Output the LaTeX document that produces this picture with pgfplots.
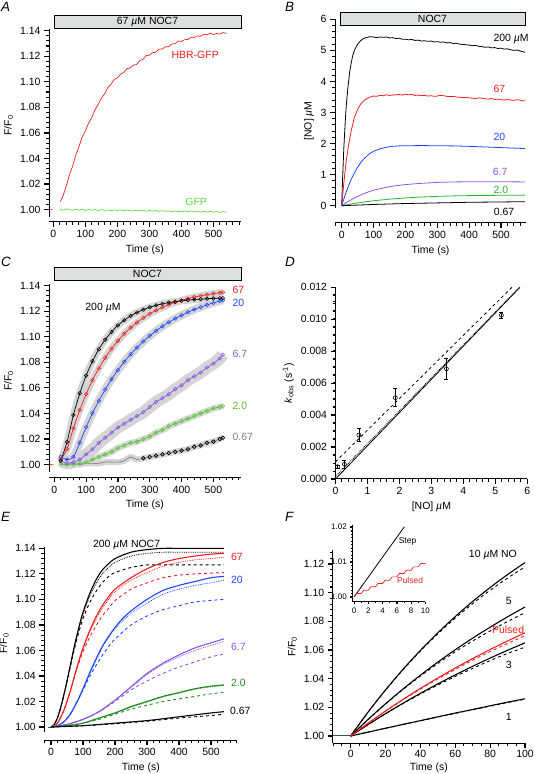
\documentclass[border=0pt]{standalone}
\usepackage{fontspec}
\setmainfont{Liberation Sans}
\usepackage{pgfplots}
\pgfplotsset{compat=1.18}
\definecolor{myred}{RGB}{240,30,30}
\definecolor{myblue}{RGB}{30,70,255}
\definecolor{mypurple}{RGB}{135,85,230}
\definecolor{greenA}{RGB}{90,220,60}
\definecolor{greenB}{RGB}{40,180,40}
\definecolor{greenC}{RGB}{80,200,40}
\definecolor{greenE}{RGB}{30,140,30}
\definecolor{boxgray}{RGB}{222,224,224}
\definecolor{bandgray}{RGB}{212,212,212}
\newcommand{\um}{\textit{µ}}
\newcommand{\tkx}[4]{\pgfplotsinvokeforeach{#1}{\draw[black, line width=#4] (axis cs:##1,#2) -- ++(0pt,-#3);}}
\newcommand{\tky}[4]{\pgfplotsinvokeforeach{#1}{\draw[black, line width=#4] (axis cs:#2,##1) -- ++(-#3,0pt);}}
\pgfplotsset{
  prism/.style={
    scale only axis, clip=false, anchor=south west,
    tick align=outside, major tick length=5bp, minor tick length=3bp,
    tick style={black, line width=1.2pt},
    minor tick style={black, line width=1pt},
    axis line style={line width=1pt},
    tick label style={font=\fontsize{10.5}{12}\selectfont},
    label style={font=\fontsize{10.5}{12}\selectfont},
    /pgf/number format/assume math mode=true,
  },
  two/.style={yticklabel style={/pgf/number format/fixed, /pgf/number format/fixed zerofill, /pgf/number format/precision=2}},
  cm/.style={smooth, line width=0.7pt, mark=o, mark size=1.8bp, mark options={line width=0.5pt, solid}},
}
\begin{document}
\begin{tikzpicture}
\path[use as bounding box] (0,0) rectangle (535bp,774bp);
% panel letters
\begin{scope}[every node/.style={anchor=north west, inner sep=0pt, font=\itshape\fontsize{13.5}{15}\selectfont}]
\node at (1bp,772bp) {A};
\node at (285bp,772bp) {B};
\node at (1bp,517bp) {C};
\node at (285bp,517bp) {D};
\node at (1bp,262bp) {E};
\node at (285bp,262bp) {F};
\end{scope}
% stimulus bars
\begin{scope}[every node/.style={font=\fontsize{10.5}{12}\selectfont}]
\draw[fill=boxgray, line width=0.6pt] (54bp,746bp) rectangle (241bp,759bp);
\node at (147.5bp,752.5bp) {67 \um M NOC7};
\draw[fill=boxgray, line width=0.6pt] (340bp,749bp) rectangle (525bp,762bp);
\node at (432.5bp,755.5bp) {NOC7};
\draw[fill=boxgray, line width=0.6pt] (54bp,494bp) rectangle (241bp,507bp);
\node at (147.5bp,500.5bp) {NOC7};
\end{scope}

%%%%%%%%%%%%%%%% A
\begin{axis}[prism, two, at={(49bp,552.3bp)}, width=191.7bp, height=192.4bp,
  xmin=-13.5, xmax=585, ymin=0.9906, ymax=1.141,
  axis x line*=bottom, axis y line*=left,
  y axis line style={shorten <=5bp},
  xtick={0,100,200,300,400,500}, minor xtick={0,20,...,580},
  ytick={1.00,1.02,1.04,1.06,1.08,1.10,1.12,1.14}, minor y tick num=4,
  xlabel={Time (s)}, ylabel={F/F\textsubscript{0}}]
\tkx{0,100,...,500}{0.9906}{5bp}{1.2pt}\tkx{0,20,...,580}{0.9906}{3bp}{1pt}
\tky{1.00,1.02,...,1.141}{-13.5}{5bp}{1.2pt}\tky{1.004,1.008,...,1.137}{-13.5}{3bp}{1pt}
\addplot[myred, line width=0.7pt] coordinates {(-9,1.0001)(-6,0.9997)(-3,1.0002)};
\addplot[myred, line width=0.7pt] coordinates {
(22,1.0065)(30,1.0106)(40,1.0181)(50,1.0271)(60,1.0338)(70,1.0425)(80,1.0493)(90,1.0568)(100,1.0615)(110,1.0676)
(120,1.0719)(130,1.0781)(140,1.0821)(150,1.0873)(160,1.0905)(170,1.0955)(180,1.0980)(190,1.1018)(200,1.1030)(210,1.1059)
(220,1.1072)(230,1.1102)(240,1.1108)(250,1.1130)(260,1.1135)(270,1.1165)(280,1.1176)(290,1.1204)(300,1.1208)(310,1.1227)
(320,1.1232)(330,1.1255)(340,1.1256)(350,1.1273)(360,1.1273)(370,1.1295)(380,1.1298)(390,1.1318)(400,1.1315)(410,1.1329)
(420,1.1330)(430,1.1349)(440,1.1346)(450,1.1359)(460,1.1355)(470,1.1371)(480,1.1367)(490,1.1380)(500,1.1369)(510,1.1377)
(520,1.1372)(530,1.1385)(540,1.1377)};
\addplot[greenA, line width=0.7pt] coordinates {
(20,1.0002)(30,0.9996)(40,1.0006)(50,1.0001)(60,0.9995)(70,1.0004)(80,0.9997)(90,1.0003)(100,0.9994)(110,1.0002)
(120,0.9996)(130,1.0001)(140,0.9993)(150,1.0000)(160,0.9995)(170,0.9999)(180,0.9992)(190,0.9998)(200,0.9994)(210,0.9999)
(220,0.9991)(230,0.9997)(240,0.9993)(250,0.9989)(260,0.9996)(270,0.9990)(280,0.9995)(290,0.9988)(300,0.9994)(310,0.9989)
(320,0.9993)(330,0.9986)(340,0.9992)(350,0.9987)(360,0.9991)(370,0.9985)(380,0.9990)(390,0.9986)(400,0.9983)(410,0.9990)
(420,0.9984)(430,0.9988)(440,0.9983)(450,0.9989)(460,0.9982)(470,0.9987)(480,0.9981)(490,0.9986)(500,0.9980)(510,0.9985)
(520,0.9979)(530,0.9984)(540,0.9980)};
\node[myred, font=\fontsize{10.5}{12}\selectfont] at (axis cs:443,1.121) {HBR-GFP};
\node[greenA, font=\fontsize{10.5}{12}\selectfont] at (axis cs:446,1.0058) {GFP};
\end{axis}

%%%%%%%%%%%%%%%% B
\begin{axis}[prism, at={(335bp,551.3bp)}, width=191bp, height=203.4bp,
  xmin=-21, xmax=578.5, ymin=-0.547, ymax=6,
  axis x line*=bottom, axis y line*=left,
  y axis line style={shorten <=14.4bp},
  xtick={0,100,200,300,400,500}, minor xtick={-20,0,...,560},
  ytick={0,1,2,3,4,5,6}, minor y tick num=4,
  xlabel={Time (s)}, ylabel={[NO] \um M}]
\tkx{0,100,...,500}{-0.547}{5bp}{1.2pt}\tkx{-20,0,...,560}{-0.547}{3bp}{1pt}
\tky{0,1,...,6}{-21}{5bp}{1.2pt}\tky{0.2,0.4,...,5.85}{-21}{3bp}{1pt}
\addplot[black, line width=0.8pt] coordinates {
(0,0)(3,0.9)(6,1.7)(9,2.3)(12,2.85)(15,3.3)(20,3.85)(25,4.3)(30,4.6)(35,4.85)(40,5.0)(50,5.2)(60,5.32)(70,5.39)(80,5.42)
(90,5.44)(100,5.43)(110,5.41)(120,5.43)(130,5.42)(140,5.43)(150,5.40)(160,5.41)(170,5.38)(180,5.39)(190,5.36)(200,5.36)
(210,5.34)(220,5.35)(230,5.32)(240,5.33)(250,5.30)(260,5.31)(270,5.29)(280,5.30)(290,5.27)(300,5.28)(310,5.26)(320,5.27)
(330,5.24)(340,5.25)(350,5.22)(360,5.23)(370,5.20)(380,5.19)(390,5.18)(400,5.17)(410,5.15)(420,5.16)(430,5.13)(440,5.12)
(450,5.10)(460,5.11)(470,5.08)(480,5.09)(490,5.06)(500,5.07)(510,5.04)(520,5.05)(530,5.02)(540,5.00)(550,5.01)(560,4.98)
(570,4.95)(575,4.94)};
\addplot[myred, line width=0.8pt] coordinates {
(0,0)(5,0.55)(10,1.05)(15,1.5)(20,1.85)(25,2.15)(30,2.42)(40,2.85)(50,3.1)(60,3.28)(70,3.38)(80,3.45)(90,3.5)(100,3.53)
(110,3.52)(120,3.55)(130,3.54)(140,3.57)(150,3.55)(160,3.56)(170,3.57)(180,3.58)(190,3.56)(200,3.59)(210,3.57)(220,3.58)
(230,3.55)(240,3.56)(250,3.54)(260,3.55)(270,3.53)(280,3.54)(290,3.52)(300,3.53)(310,3.55)(320,3.54)(330,3.52)(340,3.51)
(350,3.52)(360,3.50)(370,3.49)(380,3.48)(390,3.49)(400,3.47)(410,3.46)(420,3.45)(430,3.47)(440,3.46)(450,3.44)(460,3.43)
(470,3.45)(480,3.42)(490,3.43)(500,3.41)(510,3.40)(520,3.42)(530,3.40)(540,3.39)(550,3.41)(560,3.40)(570,3.37)(575,3.38)};
\addplot[myblue, line width=0.8pt] coordinates {
(0,0)(10,0.32)(20,0.6)(30,0.85)(40,1.06)(50,1.24)(60,1.39)(70,1.51)(80,1.61)(90,1.69)(100,1.75)(120,1.83)(140,1.88)
(160,1.91)(180,1.925)(200,1.93)(250,1.935)(300,1.93)(350,1.925)(400,1.91)(450,1.89)(500,1.87)(550,1.85)(575,1.84)};
\addplot[mypurple, line width=0.8pt] coordinates {
(0,0)(20,0.13)(40,0.25)(60,0.35)(80,0.43)(100,0.50)(130,0.57)(160,0.63)(200,0.68)(250,0.72)(300,0.75)(350,0.765)
(400,0.77)(450,0.77)(500,0.77)(575,0.765)};
\addplot[greenB, line width=0.8pt] coordinates {
(0,0)(50,0.09)(100,0.16)(150,0.21)(200,0.25)(250,0.28)(300,0.30)(350,0.315)(400,0.325)(450,0.33)(500,0.335)(575,0.34)};
\addplot[black, line width=0.8pt] coordinates {
(0,0)(100,0.04)(200,0.07)(300,0.09)(400,0.11)(500,0.12)(575,0.13)};
\begin{scope}[every node/.style={anchor=west, inner sep=0pt, font=\fontsize{10.5}{12}\selectfont}]
\node[black] at (axis cs:476,5.37) {200 \um M};
\node[myred] at (axis cs:476,3.75) {67};
\node[myblue] at (axis cs:476,2.22) {20};
\node[mypurple] at (axis cs:474,1.075) {6.7};
\node[greenB] at (axis cs:476,0.505) {2.0};
\node[black] at (axis cs:477,-0.21) {0.67};
\end{scope}
\end{axis}

%%%%%%%%%%%%%%%% C
\begin{axis}[prism, two, at={(49bp,296.7bp)}, width=191.7bp, height=193bp,
  xmin=-16.7, xmax=586, ymin=0.9901, ymax=1.141,
  axis x line*=bottom, axis y line*=left,
  y axis line style={shorten <=5.6bp},
  xtick={0,100,200,300,400,500}, minor xtick={0,20,...,580},
  ytick={1.00,1.02,1.04,1.06,1.08,1.10,1.12,1.14}, minor y tick num=4,
  xlabel={Time (s)}, ylabel={F/F\textsubscript{0}}]
\tkx{0,100,...,500}{0.9901}{5bp}{1.2pt}\tkx{0,20,...,580}{0.9901}{3bp}{1pt}
\tky{1.00,1.02,...,1.141}{-16.7}{5bp}{1.2pt}\tky{1.004,1.008,...,1.137}{-16.7}{3bp}{1pt}
% SEM bands
\addplot[bandgray, line width=7bp, smooth] coordinates {
(20,1.003)(40,1.0177)(60,1.0387)(80,1.0557)(100,1.0696)(120,1.0809)(140,1.0902)(160,1.0977)(180,1.1038)(200,1.1089)(220,1.1129)(240,1.1163)(260,1.1190)(280,1.1212)(300,1.1230)(320,1.1245)(340,1.1257)(360,1.1267)(380,1.1274)(400,1.1281)(420,1.1286)(440,1.1291)(460,1.1294)(480,1.1297)(500,1.1300)(520,1.1301)(530,1.1302)};
\addplot[bandgray, line width=7bp, smooth] coordinates {
(20,1.004)(40,1.0121)(60,1.0284)(80,1.0427)(100,1.0551)(120,1.0659)(140,1.0753)(160,1.0835)(180,1.0907)(200,1.0968)(220,1.1023)(240,1.1071)(260,1.1112)(280,1.1148)(300,1.1179)(320,1.1206)(340,1.1230)(360,1.1251)(380,1.1269)(400,1.1284)(420,1.1298)(440,1.1310)(460,1.1320)(480,1.1329)(500,1.1337)(520,1.1344)(530,1.1347)};
\addplot[bandgray, line width=8bp, smooth] coordinates {
(20,1.006)(40,1.004)(60,1.006)(80,1.0172)(100,1.0293)(120,1.0401)(140,1.0499)(160,1.0587)(180,1.0668)(200,1.0739)(220,1.0804)(240,1.0863)(260,1.0916)(280,1.0964)(300,1.1007)(320,1.1046)(340,1.1082)(360,1.1113)(380,1.1142)(400,1.1168)(420,1.1192)(440,1.1213)(460,1.1232)(480,1.1249)(500,1.1265)(520,1.1279)(530,1.1285)};
\addplot[bandgray, line width=12bp, smooth] coordinates {
(20,1.003)(40,1.001)(60,1.002)(80,1.004)(100,1.008)(120,1.012)(140,1.017)(160,1.021)(180,1.025)(200,1.029)(220,1.032)(240,1.035)(260,1.038)(280,1.041)(300,1.045)(320,1.049)(340,1.052)(360,1.055)(380,1.059)(400,1.062)(420,1.066)(440,1.069)(460,1.072)(480,1.076)(500,1.079)(520,1.083)(530,1.086)};
\addplot[bandgray, line width=6bp, smooth] coordinates {
(20,1.001)(40,1.000)(60,1.000)(80,1.001)(100,1.002)(120,1.004)(140,1.006)(160,1.008)(180,1.010)(200,1.013)(220,1.015)(240,1.017)(260,1.018)(280,1.020)(300,1.022)(320,1.025)(340,1.027)(360,1.030)(380,1.032)(400,1.034)(420,1.036)(440,1.038)(460,1.040)(480,1.042)(500,1.044)(520,1.045)(530,1.046)};
\addplot[bandgray, line width=6bp, smooth] coordinates {
(20,1.000)(40,1.000)(60,1.001)(80,1.000)(100,1.001)(120,1.001)(140,1.001)(160,1.002)(180,1.002)(200,1.002)(220,1.003)(240,1.006)(260,1.004)(280,1.005)(300,1.006)(320,1.007)(340,1.008)(360,1.009)(380,1.010)(400,1.011)(420,1.012)(440,1.014)(460,1.015)(480,1.017)(500,1.018)(520,1.020)(530,1.021)};
% means
\addplot[gray, cm, mark options={black},
  mark indices={14,15,16,17,18,19,20,21,22,23,24,25,26,27}] coordinates {
(20,1.000)(40,1.000)(60,1.001)(80,1.000)(100,1.001)(120,1.001)(140,1.001)(160,1.002)(180,1.002)(200,1.002)(220,1.003)(240,1.006)(260,1.004)(280,1.005)(300,1.006)(320,1.007)(340,1.008)(360,1.009)(380,1.010)(400,1.011)(420,1.012)(440,1.014)(460,1.015)(480,1.017)(500,1.018)(520,1.020)(530,1.021)};
\addplot[greenC, cm] coordinates {
(20,1.001)(40,1.000)(60,1.000)(80,1.001)(100,1.002)(120,1.004)(140,1.006)(160,1.008)(180,1.010)(200,1.013)(220,1.015)(240,1.017)(260,1.018)(280,1.020)(300,1.022)(320,1.025)(340,1.027)(360,1.030)(380,1.032)(400,1.034)(420,1.036)(440,1.038)(460,1.040)(480,1.042)(500,1.044)(520,1.045)(530,1.046)};
\addplot[mypurple, cm] coordinates {
(20,1.003)(40,1.001)(60,1.002)(80,1.004)(100,1.008)(120,1.012)(140,1.017)(160,1.021)(180,1.025)(200,1.029)(220,1.032)(240,1.035)(260,1.038)(280,1.041)(300,1.045)(320,1.049)(340,1.052)(360,1.055)(380,1.059)(400,1.062)(420,1.066)(440,1.069)(460,1.072)(480,1.076)(500,1.079)(520,1.083)(530,1.086)};
\addplot[myblue, cm] coordinates {
(20,1.006)(40,1.004)(60,1.006)(80,1.0172)(100,1.0293)(120,1.0401)(140,1.0499)(160,1.0587)(180,1.0668)(200,1.0739)(220,1.0804)(240,1.0863)(260,1.0916)(280,1.0964)(300,1.1007)(320,1.1046)(340,1.1082)(360,1.1113)(380,1.1142)(400,1.1168)(420,1.1192)(440,1.1213)(460,1.1232)(480,1.1249)(500,1.1265)(520,1.1279)(530,1.1285)};
\addplot[myred, cm] coordinates {
(20,1.004)(40,1.0121)(60,1.0284)(80,1.0427)(100,1.0551)(120,1.0659)(140,1.0753)(160,1.0835)(180,1.0907)(200,1.0968)(220,1.1023)(240,1.1071)(260,1.1112)(280,1.1148)(300,1.1179)(320,1.1206)(340,1.1230)(360,1.1251)(380,1.1269)(400,1.1284)(420,1.1298)(440,1.1310)(460,1.1320)(480,1.1329)(500,1.1337)(520,1.1344)(530,1.1347)};
\addplot[black, cm] coordinates {
(20,1.003)(40,1.0177)(60,1.0387)(80,1.0557)(100,1.0696)(120,1.0809)(140,1.0902)(160,1.0977)(180,1.1038)(200,1.1089)(220,1.1129)(240,1.1163)(260,1.1190)(280,1.1212)(300,1.1230)(320,1.1245)(340,1.1257)(360,1.1267)(380,1.1274)(400,1.1281)(420,1.1286)(440,1.1291)(460,1.1294)(480,1.1297)(500,1.1300)(520,1.1301)(530,1.1302)};
\addplot[myred, line width=0.7pt] coordinates {(-13,1.0003)(-8,0.9998)(-3,1.0001)};
\begin{scope}[every node/.style={anchor=west, inner sep=0pt, font=\fontsize{10.5}{12}\selectfont}]
\node[myred] at (axis cs:560,1.1366) {67};
\node[myblue] at (axis cs:560,1.1267) {20};
\node[mypurple] at (axis cs:560,1.0863) {6.7};
\node[greenC] at (axis cs:560,1.0459) {2.0};
\node[gray] at (axis cs:560,1.0219) {0.67};
\node[black, anchor=center] at (axis cs:153,1.1228) {200 \um M};
\end{scope}
\end{axis}

%%%%%%%%%%%%%%%% D
\begin{axis}[prism, at={(335.5bp,295bp)}, width=191.8bp, height=191.7bp,
  xmin=0, xmax=6, ymin=0, ymax=0.012,
  axis x line*=bottom, axis y line*=left,
  xtick={0,1,2,3,4,5,6}, minor x tick num=4,
  ytick={0,0.002,0.004,0.006,0.008,0.010,0.012}, minor y tick num=3,
  scaled y ticks=false,
  yticklabel style={/pgf/number format/fixed, /pgf/number format/fixed zerofill, /pgf/number format/precision=3},
  xlabel={[NO] \um M}, ylabel={\textit{k}\textsubscript{obs} (s\textsuperscript{-1})}]
\tkx{0,1,...,6}{0}{5bp}{1.2pt}\tkx{0.2,0.4,...,5.85}{0}{3bp}{1pt}
\tky{0,0.002,...,0.0121}{0}{5bp}{1.2pt}\tky{0.0005,0.001,...,0.0116}{0}{3bp}{1pt}
\addplot[black, line width=0.8pt] coordinates {(0,0)(5.77,0.012)};
\addplot[black, line width=0.8pt, densely dotted] coordinates {(0,0.00015)(5.75,0.012)};
\addplot[black, line width=0.8pt, dashed] coordinates {(0,0.00108)(5.52,0.012)};
\addplot[black, only marks, mark=o, mark size=2bp, mark options={line width=0.6pt},
  error bars/.cd, y dir=both, y explicit, error mark options={rotate=90, mark size=2bp, line width=0.6pt},
  error bar style={line width=0.6pt}] coordinates {
(0.063,0.00077) +- (0,0.0001)
(0.28,0.00092) +- (0,0.00028)
(0.73,0.00275) +- (0,0.00042)
(1.87,0.00509) +- (0,0.00057)
(3.47,0.0069) +- (0,0.00065)
(5.19,0.01025) +- (0,0.00018)};
\end{axis}

%%%%%%%%%%%%%%%% E
\begin{axis}[prism, two, at={(44.3bp,34bp)}, width=193bp, height=193.3bp,
  xmin=-21, xmax=582, ymin=0.9898, ymax=1.1413,
  axis x line*=bottom, axis y line*=left,
  y axis line style={shorten <=8.3bp},
  xtick={0,100,200,300,400,500}, minor xtick={-20,0,...,580},
  ytick={1.00,1.02,1.04,1.06,1.08,1.10,1.12,1.14}, minor y tick num=4,
  xlabel={Time (s)}, ylabel={F/F\textsubscript{0}}]
\tkx{0,100,...,500}{0.9898}{5bp}{1.2pt}\tkx{-20,0,...,580}{0.9898}{3bp}{1pt}
\tky{1.00,1.02,...,1.141}{-21}{5bp}{1.2pt}\tky{1.004,1.008,...,1.137}{-21}{3bp}{1pt}
\addplot[black!70, line width=0.9pt] coordinates {(-8,1)(0,1)};
% black 200
\addplot[black, line width=1.1pt, smooth] coordinates {(0,1.000)(10,1.002)(20,1.007)(30,1.015)(40,1.025)(50,1.036)(60,1.048)(70,1.060)(80,1.071)(90,1.081)(100,1.090)(120,1.104)(140,1.115)(160,1.123)(180,1.128)(200,1.132)(250,1.137)(300,1.139)(350,1.140)(400,1.140)(450,1.140)(540,1.140)};
\addplot[black, line width=0.8pt, densely dotted, smooth] coordinates {(0,1.000)(10,1.002)(20,1.007)(30,1.015)(40,1.025)(50,1.036)(60,1.047)(70,1.059)(80,1.070)(90,1.080)(100,1.088)(120,1.102)(140,1.112)(160,1.120)(180,1.125)(200,1.129)(250,1.134)(300,1.136)(350,1.137)(400,1.137)(540,1.137)};
\addplot[black, line width=0.9pt, dashed, smooth] coordinates {(0,1.000)(10,1.002)(20,1.007)(30,1.015)(40,1.025)(50,1.036)(60,1.047)(70,1.058)(80,1.068)(90,1.077)(100,1.085)(120,1.097)(140,1.106)(160,1.113)(180,1.118)(200,1.121)(250,1.125)(300,1.127)(350,1.127)(540,1.127)};
% red 67
\addplot[myred, line width=1.1pt, smooth] coordinates {(0,1.000)(20,1.003)(40,1.013)(60,1.028)(80,1.046)(100,1.062)(120,1.075)(140,1.086)(160,1.095)(180,1.102)(200,1.108)(250,1.117)(300,1.124)(350,1.129)(400,1.132)(450,1.134)(500,1.1355)(540,1.136)};
\addplot[myred, line width=0.8pt, densely dotted, smooth] coordinates {(0,1.000)(20,1.003)(40,1.013)(60,1.028)(80,1.045)(100,1.061)(120,1.074)(140,1.084)(160,1.093)(180,1.100)(200,1.106)(250,1.115)(300,1.121)(350,1.126)(400,1.129)(450,1.131)(500,1.132)(540,1.133)};
\addplot[myred, line width=0.9pt, dashed, smooth] coordinates {(0,1.000)(20,1.003)(40,1.013)(60,1.028)(80,1.045)(100,1.059)(120,1.070)(140,1.079)(160,1.087)(180,1.093)(200,1.099)(250,1.108)(300,1.113)(350,1.117)(400,1.119)(450,1.120)(540,1.121)};
% blue 20
\addplot[myblue, line width=1.1pt, smooth] coordinates {(0,1.000)(20,1.001)(40,1.004)(60,1.010)(80,1.019)(100,1.030)(120,1.042)(140,1.053)(160,1.063)(180,1.071)(200,1.078)(220,1.084)(250,1.091)(300,1.100)(350,1.107)(400,1.111)(450,1.114)(500,1.117)(540,1.118)};
\addplot[myblue, line width=0.8pt, densely dotted, smooth] coordinates {(0,1.000)(20,1.001)(40,1.004)(60,1.010)(80,1.019)(100,1.030)(120,1.041)(140,1.052)(160,1.062)(180,1.070)(200,1.077)(250,1.089)(300,1.097)(350,1.104)(400,1.108)(450,1.111)(500,1.113)(540,1.115)};
\addplot[myblue, line width=0.9pt, dashed, smooth] coordinates {(0,1.000)(20,1.001)(40,1.004)(60,1.010)(80,1.019)(100,1.029)(120,1.039)(140,1.048)(160,1.056)(180,1.063)(200,1.069)(250,1.080)(300,1.087)(350,1.092)(400,1.095)(450,1.098)(540,1.100)};
% purple 6.7
\addplot[mypurple, line width=1.1pt, smooth] coordinates {(0,1.000)(50,1.002)(100,1.006)(150,1.012)(200,1.021)(250,1.0315)(300,1.042)(350,1.050)(400,1.0565)(450,1.062)(500,1.066)(540,1.069)};
\addplot[mypurple, line width=0.8pt, densely dotted, smooth] coordinates {(0,1.000)(50,1.002)(100,1.006)(150,1.012)(200,1.021)(250,1.031)(300,1.041)(350,1.049)(400,1.055)(450,1.060)(500,1.064)(540,1.067)};
\addplot[mypurple, line width=0.9pt, dashed, smooth] coordinates {(0,1.000)(50,1.002)(100,1.006)(150,1.012)(200,1.020)(250,1.029)(300,1.036)(350,1.042)(400,1.047)(450,1.051)(500,1.055)(540,1.057)};
% green 2.0
\addplot[greenE, line width=1.1pt, smooth] coordinates {(0,1.000)(50,1.001)(100,1.003)(150,1.007)(200,1.011)(250,1.016)(300,1.020)(350,1.024)(400,1.027)(450,1.030)(500,1.032)(540,1.033)};
\addplot[greenE, line width=0.8pt, densely dotted, smooth] coordinates {(0,1.000)(50,1.001)(100,1.003)(150,1.007)(200,1.011)(250,1.0155)(300,1.0195)(350,1.0235)(400,1.0265)(450,1.0295)(500,1.0315)(540,1.0325)};
\addplot[greenE, line width=0.9pt, dashed, smooth] coordinates {(0,1.000)(50,1.001)(100,1.003)(150,1.006)(200,1.010)(250,1.014)(300,1.017)(350,1.020)(400,1.022)(450,1.024)(500,1.026)(540,1.027)};
% black 0.67
\addplot[black, line width=1.1pt, smooth] coordinates {(0,1.000)(100,1.001)(200,1.003)(300,1.005)(400,1.008)(500,1.011)(540,1.012)};
\addplot[black, line width=0.9pt, dashed, smooth] coordinates {(0,1.000)(100,1.001)(200,1.0025)(300,1.0045)(400,1.007)(500,1.009)(540,1.010)};
\begin{scope}[every node/.style={anchor=west, inner sep=0pt, font=\fontsize{10.5}{12}\selectfont}]
\node[myred] at (axis cs:562,1.1335) {67};
\node[myblue] at (axis cs:562,1.1152) {20};
\node[mypurple] at (axis cs:562,1.0629) {6.7};
\node[greenE] at (axis cs:562,1.0342) {2.0};
\node[black] at (axis cs:559,1.0125) {0.67};
\node[black, anchor=center] at (axis cs:236,1.1426) {200 \um M NOC7};
\end{scope}
\end{axis}

%%%%%%%%%%%%%%%% F
\begin{axis}[prism, two, at={(332.7bp,30.7bp)}, width=192.3bp, height=193.3bp,
  xmin=-10.3, xmax=100, ymin=0.9949, ymax=1.1298,
  axis x line*=bottom, axis y line*=left,
  xtick={0,20,40,60,80,100}, minor xtick={-10,-5,...,100},
  ytick={1.00,1.02,1.04,1.06,1.08,1.10,1.12}, minor y tick num=4,
  xticklabel style={yshift=2bp},
  xlabel style={at={(axis description cs:0.5,0)}, anchor=north, yshift=-16bp},
  xlabel={Time (s)}, ylabel={F/F\textsubscript{0}}]
\tkx{0,20,...,100}{0.9949}{5bp}{1.2pt}\tkx{-10,-5,...,100}{0.9949}{3bp}{1pt}
\tky{1.00,1.02,...,1.121}{-10.3}{5bp}{1.2pt}\tky{1.004,1.008,...,1.129}{-10.3}{3bp}{1pt}
\addplot[black!70, line width=1pt] coordinates {(-10.3,1)(0,1)};
\addplot[black, line width=1.1pt, smooth] coordinates {(0,1)(10,1.00269)(20,1.0054)(30,1.0081)(40,1.0107)(50,1.0134)(60,1.0160)(70,1.0185)(80,1.0211)(90,1.0236)(100,1.0260)};
\addplot[black, line width=0.9pt, dashed, smooth] coordinates {(0,1)(10,1.0027)(20,1.0054)(30,1.0080)(40,1.0106)(50,1.0132)(60,1.0158)(70,1.0183)(80,1.0208)(90,1.0233)(100,1.0257)};
\addplot[black, line width=1.1pt, smooth] coordinates {(0,1)(10,1.00798)(20,1.0156)(30,1.02284)(40,1.02976)(50,1.03636)(60,1.04264)(70,1.04865)(80,1.05436)(90,1.05982)(100,1.065)};
\addplot[black, line width=0.9pt, dashed, smooth] coordinates {(0,1)(10,1.00795)(20,1.0155)(30,1.0226)(40,1.0293)(50,1.0356)(60,1.0416)(70,1.0472)(80,1.0526)(90,1.0576)(100,1.062)};
\addplot[black, line width=1.1pt, smooth] coordinates {(0,1)(10,1.01156)(20,1.02249)(30,1.03275)(40,1.04244)(50,1.05157)(60,1.06021)(70,1.06829)(80,1.0759)(90,1.08317)(100,1.09)};
\addplot[black, line width=0.9pt, dashed, smooth] coordinates {(0,1)(10,1.0115)(20,1.0223)(30,1.0324)(40,1.0418)(50,1.0506)(60,1.0588)(70,1.0663)(80,1.0733)(90,1.0799)(100,1.086)};
\addplot[black, line width=1.1pt, smooth] coordinates {(0,1)(10,1.01669)(20,1.03215)(30,1.04648)(40,1.05973)(50,1.072)(60,1.08337)(70,1.0939)(80,1.10364)(90,1.11266)(100,1.12102)};
\addplot[black, line width=0.9pt, dashed, smooth] coordinates {(0,1)(10,1.0166)(20,1.0320)(30,1.0462)(40,1.0593)(50,1.0713)(60,1.0823)(70,1.0924)(80,1.1017)(90,1.1102)(100,1.1180)};
\addplot[myred, line width=1.1pt, smooth] coordinates {(0,1)(10,1.00893)(20,1.01741)(30,1.02549)(40,1.03318)(50,1.04048)(60,1.04743)(70,1.05404)(80,1.06033)(90,1.06632)(100,1.07201)};
\addplot[myred, line width=0.9pt, dashed, smooth] coordinates {(0,1)(10,1.0089)(20,1.0173)(30,1.0252)(40,1.0327)(50,1.0398)(60,1.0465)(70,1.0529)(80,1.0589)(90,1.0646)(100,1.0700)};
\begin{scope}[every node/.style={inner sep=0pt, font=\fontsize{10.5}{12}\selectfont}]
\node[black] at (axis cs:81.6,1.1263) {10 \um M NO};
\node[black] at (axis cs:90.7,1.0942) {5};
\node[myred] at (axis cs:90.3,1.0744) {Pulsed};
\node[black] at (axis cs:90.7,1.0495) {3};
\node[black] at (axis cs:90.7,1.013) {1};
\end{scope}
\end{axis}

%%%%%%%%%%%%%%%% F inset
\begin{axis}[prism, two, at={(352.7bp,172.3bp)}, width=72.6bp, height=76.6bp,
  xmin=-0.2, xmax=10, ymin=0.9986, ymax=1.0205,
  axis x line*=bottom, axis y line*=left,
  axis line style={line width=0.7pt},
  major tick length=2.5bp, minor tick length=1.5bp,
  tick style={black, line width=0.6pt}, minor tick style={black, line width=0.5pt},
  tick label style={font=\fontsize{8}{9}\selectfont},
  xtick={0,2,4,6,8,10}, minor xtick={0,1,...,10},
  ytick={1.00,1.01,1.02}, minor y tick num=9]
\tkx{0,2,...,10}{0.9986}{2.5bp}{0.7pt}\tkx{1,3,...,9}{0.9986}{1.5bp}{0.6pt}
\tky{1.00,1.01,1.02}{-0.2}{2.5bp}{0.7pt}\tky{1.001,1.002,...,1.0195}{-0.2}{1.5bp}{0.6pt}
\addplot[black, line width=0.8pt] coordinates {(0,1.000)(7.05,1.0200)};
\addplot[myred, line width=0.7pt] coordinates {
(0,1.0000)(0.35,1.00095)(1,1.00095)(1.35,1.0019)(2,1.0019)(2.35,1.00285)(3,1.00285)(3.35,1.0038)(4,1.0038)(4.35,1.00475)
(5,1.00475)(5.35,1.0057)(6,1.0057)(6.35,1.00665)(7,1.00665)(7.35,1.0076)(8,1.0076)(8.35,1.00855)(9,1.00855)(9.35,1.0095)(10,1.0095)};
\node[black, font=\fontsize{8.5}{9}\selectfont] at (axis cs:7.5,1.0158) {Step};
\node[myred, font=\fontsize{8.5}{9}\selectfont] at (axis cs:7.86,1.0048) {Pulsed};
\end{axis}
\end{tikzpicture}
\end{document}
